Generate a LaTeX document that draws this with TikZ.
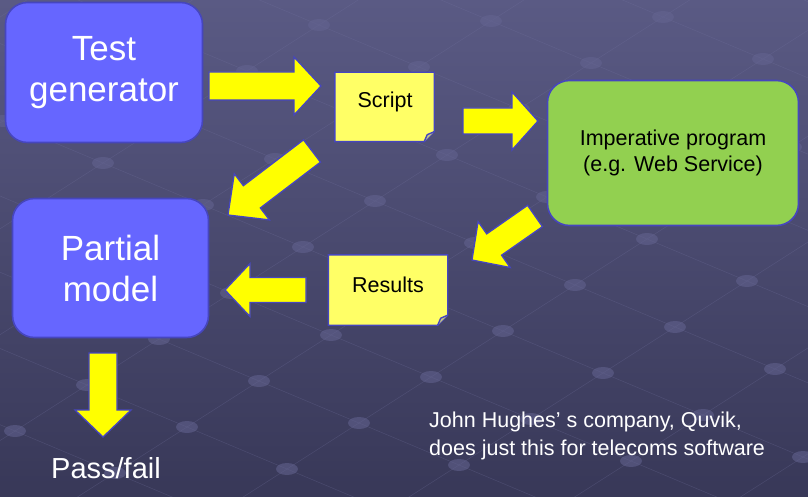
\documentclass[tikz,border=0pt]{standalone}
\usepackage{fontspec}
\setmainfont{Liberation Sans}
\usetikzlibrary{calc}
\definecolor{bgtop}{RGB}{90,90,132}
\definecolor{bgbot}{RGB}{56,56,88}
\definecolor{boxblue}{RGB}{102,102,255}
\definecolor{edgeblue}{RGB}{70,70,190}
\definecolor{progreen}{RGB}{146,208,80}
\definecolor{noteyellow}{RGB}{255,255,102}
\definecolor{arrowyellow}{RGB}{255,255,0}
\definecolor{gridcol}{RGB}{115,115,160}
\definecolor{dotcol}{RGB}{100,100,145}
\newcommand{\blockarrow}[5]{%
  \coordinate (hb) at ($(#2)!#3pt!(#1)$);
  \draw[blockarr] ($(#1)!#4pt!90:(#2)$) -- ($(hb)!#4pt!90:(#2)$) -- ($(hb)!#5pt!90:(#2)$) -- (#2)
    -- ($(hb)!#5pt!-90:(#2)$) -- ($(hb)!#4pt!-90:(#2)$) -- ($(#1)!#4pt!-90:(#2)$) -- cycle;}
\newcommand{\notepath}[1]{%
  \draw[notebox] (#1.north west) -- (#1.north east) -- ($(#1.south east)+(0,-10)$)
    -- ($(#1.south east)+(-10,0)$) -- (#1.south west) -- cycle;
  \draw[notebox, fill=noteyellow!70!edgeblue] ($(#1.south east)+(0,-10)$) -- ($(#1.south east)+(-7,-7)$)
    -- ($(#1.south east)+(-10,0)$);}
\begin{document}
\begin{tikzpicture}[x=1pt,y=-1pt,
  bigbox/.style={draw=edgeblue, line width=1.6pt, rounded corners=22pt, fill=boxblue,
    text=white, align=center, font=\fontsize{35}{41}\selectfont, inner sep=0pt},
  progbox/.style={draw=edgeblue, line width=1.6pt, rounded corners=22pt, fill=progreen,
    text=black, align=center, font=\fontsize{21.5}{26}\selectfont, inner sep=0pt},
  notebox/.style={draw=edgeblue, line width=1.4pt, fill=noteyellow, line join=miter},
  notetext/.style={text=black, font=\fontsize{21.5}{26}\selectfont, inner sep=0pt},
  blockarr/.style={draw=edgeblue, line width=1.3pt, fill=arrowyellow, line join=miter},
  gridline/.style={draw=gridcol, line width=0.5pt, opacity=0.3},
  dot/.style={fill=dotcol, opacity=0.55},
  plain/.style={text=white, inner sep=0pt}]
\useasboundingbox (0,0) rectangle (808,497);
\shade[top color=bgtop, bottom color=bgbot] (0,0) rectangle (808,497);
\begin{scope}
  \clip (0,0) rectangle (808,497);
  \foreach \i in {-8,...,14} {
    \draw[gridline] ({187+72*\i-100*8},{427-46*\i-42*8}) -- ({187+72*\i+100*10},{427-46*\i+42*10});
  }
  \foreach \j in {-8,...,10} {
    \draw[gridline] ({187-72*8+100*\j},{427+46*8+42*\j}) -- ({187+72*14+100*\j},{427-46*14+42*\j});
  }
  \foreach \i in {-8,...,14} {
    \foreach \j in {-8,...,10} {
      \fill[dot] ({187+72*\i+100*\j},{427-46*\i+42*\j}) ellipse (11 and 6);
    }
  }
\end{scope}

% boxes
\node[bigbox, minimum width=197pt, minimum height=140pt] (gen) at (104,72.5) {Test\\generator};
\node[bigbox, minimum width=196pt, minimum height=139pt] (model) at (110.5,268) {Partial\\model};
\node[progbox, minimum width=251pt, minimum height=145pt] (prog) at (673,153) {Imperative program\\(e.g. Web Service)};

% notes
\node[minimum width=99pt, minimum height=69pt, inner sep=0pt] (script) at (384.5,107) {};
\notepath{script}
\node[notetext] (scripttxt) at (385,102) {Script};
\node[minimum width=119pt, minimum height=70pt, inner sep=0pt] (results) at (388,290) {};
\notepath{results}
\node[notetext] (resultstxt) at (388,285) {Results};

% texts
\node[plain, font=\fontsize{29}{34}\selectfont] (pass) at (106,468) {Pass/fail};
\node[plain, align=left, anchor=north west, font=\fontsize{21.5}{28}\selectfont] (note) at (429,412)
  {John Hughes’ s company, Quvik,\\does just this for telecoms software};

% block arrows
\coordinate (a1s) at (209,86);  \coordinate (a1e) at (321,86);
\coordinate (a2s) at (463,121); \coordinate (a2e) at (538,121);
\coordinate (a3s) at (312,151); \coordinate (a3e) at (228,215);
\coordinate (a4s) at (535,216); \coordinate (a4e) at (472,260);
\coordinate (a5s) at (306,290); \coordinate (a5e) at (225,290);
\coordinate (a6s) at (103,353); \coordinate (a6e) at (103,437);
\blockarrow{a1s}{a1e}{27}{14}{29}
\blockarrow{a2s}{a2e}{26}{13}{29}
\blockarrow{a3s}{a3e}{30}{14}{29}
\blockarrow{a4s}{a4e}{27}{13}{28}
\blockarrow{a5s}{a5e}{25}{12.5}{26.5}
\blockarrow{a6s}{a6e}{27}{14}{28}
\end{tikzpicture}
\end{document}
